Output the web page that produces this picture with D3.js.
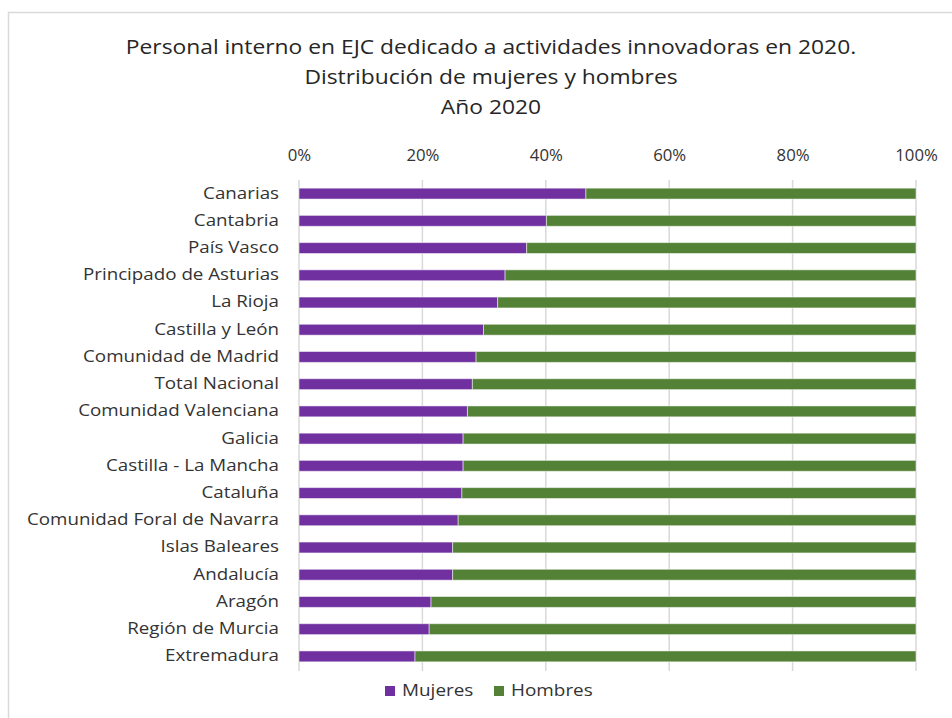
<!DOCTYPE html>
<html><head><meta charset="utf-8">
<script src="https://cdn.jsdelivr.net/npm/d3@7"></script>
<style>body{margin:0;background:#fff;} text{font-family:"Open Sans",Lato,sans-serif;}</style>
</head><body><svg id="c" width="952" height="718"></svg>
<script>
const categories = ["Canarias","Cantabria","País Vasco","Principado de Asturias","La Rioja","Castilla y León","Comunidad de Madrid","Total Nacional","Comunidad Valenciana","Galicia","Castilla - La Mancha","Cataluña","Comunidad Foral de Navarra","Islas Baleares","Andalucía","Aragón","Región de Murcia","Extremadura"];
const mujeres = [46.5,40.1,36.9,33.4,32.2,29.9,28.7,28.1,27.3,26.6,26.6,26.4,25.8,24.9,24.9,21.4,21.1,18.8];
const hombres = mujeres.map(v => 100 - v);
const seriesNames = ["Mujeres","Hombres"];
const seriesColors = ["#7030A0","#538135"];
const tickValues = [0,20,40,60,80,100];
const titleLines = ["Personal interno en EJC dedicado a actividades innovadoras en 2020.","Distribución de mujeres y hombres","Año 2020"];

const svg = d3.select("#c");
function stretch(sel, f){
  sel.each(function(){ const w=this.getComputedTextLength(); d3.select(this).attr("textLength",w*f).attr("lengthAdjust","spacingAndGlyphs"); });
}
// frame
svg.append("path").attr("d","M8.5,718 V12.5 H952").attr("fill","none").attr("stroke","#d9d9d9").attr("stroke-width",1.5);

const x = d3.scaleLinear().domain([0,100]).range([299,916]);
const y = d3.scaleBand().domain(categories).range([180,670]).paddingInner(0.6).paddingOuter(0.3);

// title
const tt = svg.append("g").selectAll("text").data(titleLines).join("text")
  .attr("x",491).attr("y",(d,i)=>54+i*30).attr("text-anchor","middle")
  .attr("font-size",19.5).attr("fill","#262626").text(d=>d);
stretch(tt,1.17);

// grid
svg.append("g").selectAll("line").data(tickValues).join("line")
  .attr("x1",d=>x(d)).attr("x2",d=>x(d)).attr("y1",180).attr("y2",671)
  .attr("stroke","#d9d9d9").attr("stroke-width",1.5);

// axis top
const ax = svg.append("g").attr("transform","translate(0,170)")
  .call(d3.axisTop(x).tickValues(tickValues).tickFormat(d=>d+"%").tickSize(0).tickPadding(9));
ax.select(".domain").remove();
ax.selectAll("text").attr("font-size",15.5).attr("fill","#333333").style("font-family","'Open Sans',Lato,sans-serif");
stretch(ax.selectAll("text"),1.08);

// y axis labels
const ay = svg.append("g").attr("transform","translate(279,0)")
  .call(d3.axisLeft(y).tickSize(0).tickPadding(0));
ay.select(".domain").remove();
ay.selectAll("text").attr("font-size",15.5).attr("fill","#333333").style("font-family","'Open Sans',Lato,sans-serif");
stretch(ay.selectAll("text"),1.21);

// bars
const rows = categories.map((c,i)=>({c, m:mujeres[i], h:hombres[i]}));
const stack = d3.stack().keys(["m","h"])(rows);
svg.append("g").selectAll("g").data(stack).join("g").attr("fill",(d,i)=>seriesColors[i])
  .selectAll("rect").data(d=>d).join("rect")
  .attr("x",d=>x(d[0])).attr("width",d=>x(d[1])-x(d[0]))
  .attr("y",d=>y(d.data.c)).attr("height",y.bandwidth())
  .attr("stroke","#ffffff").attr("stroke-opacity",0.5).attr("stroke-width",1);

// legend
const lg = svg.append("g").attr("transform","translate(385,691)");
const items = lg.selectAll("g").data(seriesNames).join("g").attr("transform",(d,i)=>`translate(${i*109},0)`);
items.append("rect").attr("x",0).attr("y",-5).attr("width",10).attr("height",10).attr("fill",(d,i)=>seriesColors[i]);
const lt = items.append("text").attr("x",17).attr("y",0).attr("dy","0.35em").attr("font-size",15.5).attr("fill","#333333").text(d=>d);
stretch(lt,1.22);
</script></body></html>
